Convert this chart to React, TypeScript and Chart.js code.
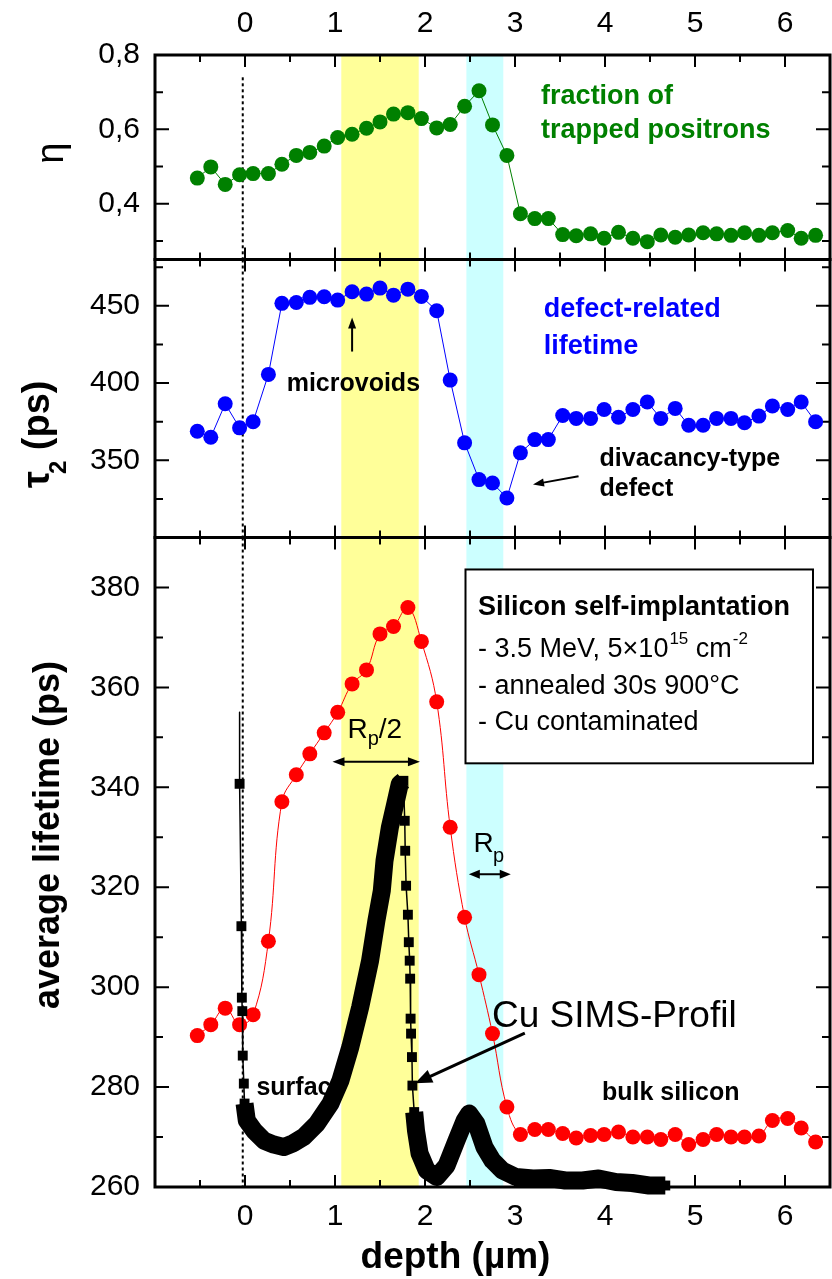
import React, { useEffect, useRef } from 'react';
import { Chart, registerables } from 'chart.js';

Chart.register(...registerables);

const FONT = '"Liberation Sans", Arial, Helvetica, sans-serif';

// ---- data ----
const depth = [-0.53, -0.38, -0.22, -0.06, 0.09, 0.26, 0.41, 0.57, 0.72, 0.88, 1.03, 1.19, 1.35, 1.5, 1.65, 1.81, 1.96, 2.13, 2.28, 2.44, 2.6, 2.75, 2.91, 3.06, 3.22, 3.37, 3.53, 3.68, 3.84, 3.99, 4.15, 4.31, 4.47, 4.62, 4.78, 4.93, 5.09, 5.24, 5.4, 5.55, 5.71, 5.86, 6.03, 6.18, 6.34];
const eta = [0.469, 0.499, 0.452, 0.478, 0.481, 0.481, 0.506, 0.53, 0.538, 0.555, 0.578, 0.587, 0.603, 0.62, 0.641, 0.645, 0.629, 0.604, 0.613, 0.662, 0.704, 0.612, 0.53, 0.373, 0.36, 0.36, 0.317, 0.314, 0.319, 0.307, 0.323, 0.307, 0.298, 0.316, 0.31, 0.316, 0.322, 0.319, 0.315, 0.322, 0.315, 0.322, 0.328, 0.307, 0.315];
const tau2 = [368.8, 364.9, 386.6, 371.0, 374.9, 405.6, 451.6, 452.2, 455.5, 455.9, 453.7, 459.1, 457.6, 461.5, 456.9, 460.8, 456.1, 446.8, 401.9, 361.3, 337.5, 335.3, 325.6, 354.8, 363.4, 363.4, 379.0, 377.1, 377.1, 382.9, 377.9, 382.9, 387.7, 377.1, 383.6, 372.7, 372.7, 377.1, 377.1, 374.3, 378.6, 385.1, 382.9, 387.7, 374.9];
const avgLifetime = [290.3, 292.5, 295.8, 292.5, 294.5, 309.2, 337.1, 342.5, 346.7, 350.9, 355.0, 360.7, 363.5, 370.7, 372.2, 376.0, 369.2, 357.1, 332.0, 314.0, 302.5, 290.7, 276.0, 270.5, 271.5, 271.5, 270.7, 269.8, 270.3, 270.5, 271.0, 270.0, 270.0, 269.5, 270.5, 268.5, 269.5, 270.5, 270.0, 270.0, 270.2, 273.3, 273.7, 271.8, 269.0];

const simsDepth = [-0.06, -0.06, -0.04, -0.035, -0.03, -0.025, -0.013, -0.005, 0.02, 0.1, 0.21, 0.32, 0.43, 0.54, 0.65, 0.8, 0.95, 1.06, 1.17, 1.28, 1.39, 1.46, 1.52, 1.55, 1.61, 1.67, 1.72, 1.76, 1.775, 1.78, 1.79, 1.81, 1.82, 1.83, 1.835, 1.84, 1.845, 1.855, 1.86, 1.88, 1.9, 1.94, 2.02, 2.13, 2.24, 2.35, 2.44, 2.49, 2.57, 2.66, 2.75, 2.86, 3.01, 3.2, 3.38, 3.56, 3.75, 3.93, 4.12, 4.3, 4.49, 4.67];
const simsValue = [355, 340.7, 312.2, 297.9, 295.2, 286.3, 280.7, 276.7, 273.3, 271.3, 269.3, 268.5, 268, 268.8, 270, 272.7, 276.7, 281.3, 288, 296, 305.3, 313.3, 319.3, 325.3, 332, 336.7, 340.7, 341.3, 333.3, 327.3, 320.3, 314.5, 309, 305.3, 301.7, 293.7, 290.7, 286, 280.3, 275, 271.3, 266.7, 263.3, 262, 264.3, 269.3, 273.3, 274.7, 272.7, 268, 265.3, 263.3, 262, 261.7, 261.8, 261.3, 261.3, 261.7, 261, 260.8, 260.3, 260.3];
// index ranges of the SIMS profile where the measured points are densely packed
const simsDenseRanges = [[7, 27], [39, 61]];

const depthTicks = [0, 1, 2, 3, 4, 5, 6];
const depthMinorTicks = [-0.5, 0.5, 1.5, 2.5, 3.5, 4.5, 5.5];
const etaTicks = [0.4, 0.6, 0.8];
const etaMinorTicks = [0.3, 0.5, 0.7];
const tauTicks = [350, 400, 450];
const tauMinorTicks = [325, 375, 425, 475];
const avgTicks = [260, 280, 300, 320, 340, 360, 380];
const avgMinorTicks = [270, 290, 310, 330, 350, 370];

const yellowBand = [1.07, 1.93];
const cyanBand = [2.46, 2.87];
const surfaceDepth = -0.025;

const pts = (xs: number[], ys: number[]) => xs.map((x, i) => ({ x, y: ys[i] }));

function isDense(i: number) {
  return simsDenseRanges.some(([a, b]) => i >= a && i < b);
}

function drawHead(ctx: CanvasRenderingContext2D, x0: number, y0: number, x1: number, y1: number, len: number, half: number) {
  const a = Math.atan2(y1 - y0, x1 - x0);
  const c = Math.cos(a), s = Math.sin(a);
  ctx.beginPath();
  ctx.moveTo(x1, y1);
  ctx.lineTo(x1 - len * c + half * s, y1 - len * s - half * c);
  ctx.lineTo(x1 - len * c - half * s, y1 - len * s + half * c);
  ctx.closePath();
  ctx.fill();
}

function drawArrow(ctx: CanvasRenderingContext2D, x0: number, y0: number, x1: number, y1: number, lw: number, len: number, half: number, both = false) {
  const a = Math.atan2(y1 - y0, x1 - x0);
  const c = Math.cos(a), s = Math.sin(a);
  ctx.lineWidth = lw;
  ctx.beginPath();
  ctx.moveTo(both ? x0 + len * 0.7 * c : x0, both ? y0 + len * 0.7 * s : y0);
  ctx.lineTo(x1 - len * 0.7 * c, y1 - len * 0.7 * s);
  ctx.stroke();
  drawHead(ctx, x0, y0, x1, y1, len, half);
  if (both) drawHead(ctx, x1, y1, x0, y0, len, half);
}

const decorPlugin = {
  id: 'decor',
  beforeDatasetsDraw(chart: any) {
    const { ctx, chartArea: ca, scales: s } = chart;
    const X = (v: number) => s.x.getPixelForValue(v);
    ctx.save();
    ctx.fillStyle = '#000';
    ctx.textBaseline = 'middle';
    ctx.textAlign = 'left';
    ctx.font = `bold 25px ${FONT}`;
    ctx.fillText('surface', X(0.127), s.yAvg.getPixelForValue(279.8));
    ctx.fillStyle = '#FFFF99';
    ctx.fillRect(X(yellowBand[0]), ca.top, X(yellowBand[1]) - X(yellowBand[0]), ca.bottom - ca.top);
    ctx.fillStyle = '#CCFFFF';
    ctx.fillRect(X(cyanBand[0]), ca.top, X(cyanBand[1]) - X(cyanBand[0]), ca.bottom - ca.top);
    const panels = [
      { sc: s.yEta, major: etaTicks, minor: etaMinorTicks },
      { sc: s.yTau, major: tauTicks, minor: tauMinorTicks },
      { sc: s.yAvg, major: avgTicks, minor: avgMinorTicks },
    ];
    ctx.strokeStyle = '#000';
    for (const p of panels) {
      const top = p.sc.top, bottom = p.sc.bottom;
      ctx.lineWidth = 2;
      ctx.beginPath();
      for (const v of depthTicks) {
        const px = X(v);
        ctx.moveTo(px, bottom); ctx.lineTo(px, bottom - 12);
        ctx.moveTo(px, top); ctx.lineTo(px, top + 12);
      }
      for (const v of depthMinorTicks) {
        const px = X(v);
        ctx.moveTo(px, bottom); ctx.lineTo(px, bottom - 7);
        ctx.moveTo(px, top); ctx.lineTo(px, top + 7);
      }
      for (const v of p.major) {
        const py = p.sc.getPixelForValue(v);
        ctx.moveTo(ca.left, py); ctx.lineTo(ca.left + 14, py);
        ctx.moveTo(ca.right, py); ctx.lineTo(ca.right - 14, py);
      }
      for (const v of p.minor) {
        const py = p.sc.getPixelForValue(v);
        ctx.moveTo(ca.left, py); ctx.lineTo(ca.left + 8, py);
        ctx.moveTo(ca.right, py); ctx.lineTo(ca.right - 8, py);
      }
      ctx.stroke();
      ctx.lineWidth = 3;
      ctx.strokeRect(ca.left, top, ca.right - ca.left, bottom - top);
    }
    ctx.restore();
  },
  afterDatasetsDraw(chart: any) {
    const { ctx, scales: s } = chart;
    const X = (v: number) => s.x.getPixelForValue(v);
    const YE = (v: number) => s.yEta.getPixelForValue(v);
    const YT = (v: number) => s.yTau.getPixelForValue(v);
    const YA = (v: number) => s.yAvg.getPixelForValue(v);
    ctx.save();
    ctx.textBaseline = 'middle';
    ctx.textAlign = 'left';

    ctx.fillStyle = '#008000';
    ctx.font = `bold 27px ${FONT}`;
    ctx.fillText('fraction of', X(3.29), YE(0.687));
    ctx.fillText('trapped positrons', X(3.29), YE(0.598));

    ctx.fillStyle = '#0000FF';
    ctx.fillText('defect-related', X(3.32), YT(447.6));
    ctx.fillText('lifetime', X(3.32), YT(423.7));
    ctx.fillStyle = '#000';
    ctx.font = `bold 25px ${FONT}`;
    ctx.fillText('microvoids', X(0.463), YT(399.1));
    ctx.fillText('divacancy-type', X(3.94), YT(350.5));
    ctx.fillText('defect', X(3.94), YT(331.1));
    ctx.strokeStyle = '#000';
    drawArrow(ctx, X(1.19), YT(420.4), X(1.19), YT(442.4), 2, 11, 4);
    drawArrow(ctx, X(3.706), YT(339.7), X(3.2), YT(334.3), 2, 11, 4);

    ctx.fillText('bulk silicon', X(3.966), YA(278.8));
    ctx.font = `37px ${FONT}`;
    ctx.fillText('Cu SIMS-Profil', X(2.744), YA(294.1));
    drawArrow(ctx, X(3.109), YA(290.8), X(1.89), YA(280.75), 3, 17, 7);

    {
      const bx = X(1.138);
      const by = YA(351.9) + 10;
      ctx.textBaseline = 'alphabetic';
      ctx.font = `28px ${FONT}`;
      ctx.fillText('R', bx, by);
      let cx = bx + ctx.measureText('R').width;
      ctx.font = `20px ${FONT}`;
      ctx.fillText('p', cx, by + 7);
      cx += ctx.measureText('p').width;
      ctx.font = `28px ${FONT}`;
      ctx.fillText('/2', cx, by);
      drawArrow(ctx, X(0.972), YA(345.1), X(1.944), YA(345.1), 2, 12, 4.5, true);
      const rx = X(2.539);
      const ry = YA(329.1) + 10;
      ctx.font = `28px ${FONT}`;
      ctx.fillText('R', rx, ry);
      ctx.font = `20px ${FONT}`;
      ctx.fillText('p', rx + ctx.measureText('R').width * 1.35, ry + 10);
      drawArrow(ctx, X(2.487), YA(322.6), X(2.953), YA(322.6), 2, 11, 4.5, true);
    }

    {
      const x0 = X(2.45), x1 = X(6.311), y0 = YA(383.6), y1 = YA(344.8);
      ctx.fillStyle = '#fff';
      ctx.fillRect(x0, y0, x1 - x0, y1 - y0);
      ctx.strokeStyle = '#000';
      ctx.lineWidth = 2;
      ctx.strokeRect(x0, y0, x1 - x0, y1 - y0);
      ctx.fillStyle = '#000';
      ctx.textBaseline = 'middle';
      const tx = X(2.589);
      ctx.font = `bold 27px ${FONT}`;
      ctx.fillText('Silicon self-implantation', tx, YA(375.9));
      const ly = YA(367.5);
      ctx.font = `27px ${FONT}`;
      let cx = tx;
      ctx.fillText('- 3.5 MeV, 5\u00d710', cx, ly);
      cx += ctx.measureText('- 3.5 MeV, 5\u00d710').width + 1;
      ctx.font = `17px ${FONT}`;
      ctx.fillText('15', cx, ly - 11);
      cx += ctx.measureText('15').width;
      ctx.font = `27px ${FONT}`;
      ctx.fillText(' cm', cx, ly);
      cx += ctx.measureText(' cm').width + 1;
      ctx.font = `17px ${FONT}`;
      ctx.fillText('-2', cx, ly - 11);
      ctx.font = `27px ${FONT}`;
      ctx.fillText('- annealed 30s 900\u00b0C', tx, YA(360.1));
      ctx.fillText('- Cu contaminated', tx, YA(352.9));
    }

    ctx.fillStyle = '#000';
    ctx.textBaseline = 'alphabetic';
    ctx.save();
    ctx.translate(63, (s.yEta.top + s.yEta.bottom) / 2 - 4);
    ctx.rotate(-Math.PI / 2);
    ctx.textAlign = 'center';
    ctx.font = `38px ${FONT}`;
    ctx.fillText('\u03b7', 0, 0);
    ctx.restore();
    ctx.save();
    ctx.translate(49, 488);
    ctx.rotate(-Math.PI / 2);
    ctx.textAlign = 'left';
    ctx.font = `bold 38px ${FONT}`;
    ctx.fillText('\u03c4', 0, 0);
    let tx2 = ctx.measureText('\u03c4').width - 3;
    ctx.font = `bold 24px ${FONT}`;
    ctx.fillText('2', tx2, 17);
    tx2 += ctx.measureText('2').width;
    ctx.font = `bold 38px ${FONT}`;
    ctx.fillText(' (ps)', tx2, 0);
    ctx.restore();
    ctx.save();
    ctx.translate(59, 835);
    ctx.rotate(-Math.PI / 2);
    ctx.textAlign = 'center';
    ctx.font = `bold 36px ${FONT}`;
    ctx.fillText('average lifetime (ps)', 0, 0);
    ctx.restore();
    ctx.textAlign = 'center';
    ctx.font = `bold 37px ${FONT}`;
    ctx.fillText('depth (\u00b5m)', 455.5, 1268);

    ctx.restore();
  },
};

function yScale(min: number, max: number, ticks: number[], weight: number, stackWeight: number, fmt: (v: number) => string) {
  return {
    type: 'linear',
    position: 'left',
    stack: 'panels',
    stackWeight,
    weight,
    min,
    max,
    offset: false,
    grid: { display: false, drawTicks: false },
    border: { display: false },
    ticks: {
      autoSkip: false,
      padding: 15,
      color: '#000',
      font: { family: FONT, size: 30 },
      callback: (v: number) => fmt(v),
    },
    afterBuildTicks: (sc: any) => {
      sc.ticks = ticks.map((v) => ({ value: v }));
    },
    afterFit: (sc: any) => {
      sc.width = 155;
    },
  };
}

function xScale(position: 'top' | 'bottom', height: number, padding: number) {
  return {
    type: 'linear',
    position,
    min: -1,
    max: 6.5,
    grid: { display: false, drawTicks: false },
    border: { display: false },
    ticks: {
      autoSkip: false,
      padding,
      color: '#000',
      maxRotation: 0,
      font: { family: FONT, size: 30 },
      callback: (v: number) => String(v),
    },
    afterBuildTicks: (sc: any) => {
      sc.ticks = depthTicks.map((v) => ({ value: v }));
    },
    afterFit: (sc: any) => {
      sc.height = height;
    },
  };
}

export default function App() {
  const ref = useRef<HTMLCanvasElement>(null);
  useEffect(() => {
    if (!ref.current) return;
    const chart = new Chart(ref.current, {
      type: 'scatter',
      data: {
        datasets: [
          {
            label: 'Cu SIMS-Profil',
            data: pts(simsDepth, simsValue),
            yAxisID: 'yAvg',
            showLine: true,
            borderColor: '#000',
            backgroundColor: '#000',
            borderWidth: 1.5,
            borderJoinStyle: 'round',
            pointStyle: 'rect',
            pointRadius: simsValue.map((_, i) => (i === 0 ? 0 : 7)),
            pointBorderWidth: 0,
            clip: false,
            segment: {
              borderWidth: (c: any) => (isDense(c.p0DataIndex) ? 18 : 1.5),
            },
          } as any,
          {
            label: 'average lifetime',
            data: pts(depth, avgLifetime),
            yAxisID: 'yAvg',
            showLine: true,
            borderColor: '#FF0000',
            backgroundColor: '#FF0000',
            borderWidth: 1,
            tension: 0.4,
            pointRadius: 7.5,
            pointBorderWidth: 0,
          },
          {
            label: 'defect-related lifetime',
            data: pts(depth, tau2),
            yAxisID: 'yTau',
            showLine: true,
            borderColor: '#0000FF',
            backgroundColor: '#0000FF',
            borderWidth: 1,
            pointRadius: 7.5,
            pointBorderWidth: 0,
          },
          {
            label: 'fraction of trapped positrons',
            data: pts(depth, eta),
            yAxisID: 'yEta',
            showLine: true,
            borderColor: '#008000',
            backgroundColor: '#008000',
            borderWidth: 1,
            pointRadius: 7.5,
            pointBorderWidth: 0,
          },
          {
            label: 'surface-eta',
            data: [{ x: surfaceDepth, y: 0.74 }, { x: surfaceDepth, y: 0.25 }],
            yAxisID: 'yEta',
            showLine: true,
            borderColor: '#000',
            borderWidth: 2,
            borderDash: [3, 3],
            pointRadius: 0,
          },
          {
            label: 'surface-tau',
            data: [{ x: surfaceDepth, y: 480 }, { x: surfaceDepth, y: 300 }],
            yAxisID: 'yTau',
            showLine: true,
            borderColor: '#000',
            borderWidth: 2,
            borderDash: [3, 3],
            pointRadius: 0,
          },
          {
            label: 'surface-avg',
            data: [{ x: surfaceDepth, y: 390 }, { x: surfaceDepth, y: 260 }],
            yAxisID: 'yAvg',
            showLine: true,
            borderColor: '#000',
            borderWidth: 2,
            borderDash: [3, 3],
            pointRadius: 0,
          },
        ],
      },
      options: {
        responsive: false,
        animation: false,
        devicePixelRatio: 1,
        layout: { autoPadding: false, padding: { left: 0, right: 2, top: 0, bottom: 0 } },
        plugins: {
          legend: { display: false },
          tooltip: { enabled: false },
        },
        scales: {
          x: xScale('bottom', 92, 12),
          xTop: xScale('top', 55, 13),
          yEta: yScale(0.25, 0.8, etaTicks, 3, 204.5, (v) => v.toFixed(1).replace('.', ',')),
          yTau: yScale(300, 480, tauTicks, 2, 278, (v) => String(v)),
          yAvg: yScale(260, 390, avgTicks, 1, 649.5, (v) => String(v)),
        } as any,
      },
      plugins: [decorPlugin],
    } as any);
    return () => chart.destroy();
  }, []);
  return (
    <div style={{ position: 'absolute', left: 0, top: 0, width: 832, height: 1279, background: '#fff' }}>
      <canvas ref={ref} width={832} height={1279} style={{ width: 832, height: 1279, display: 'block' }} />
    </div>
  );
}
